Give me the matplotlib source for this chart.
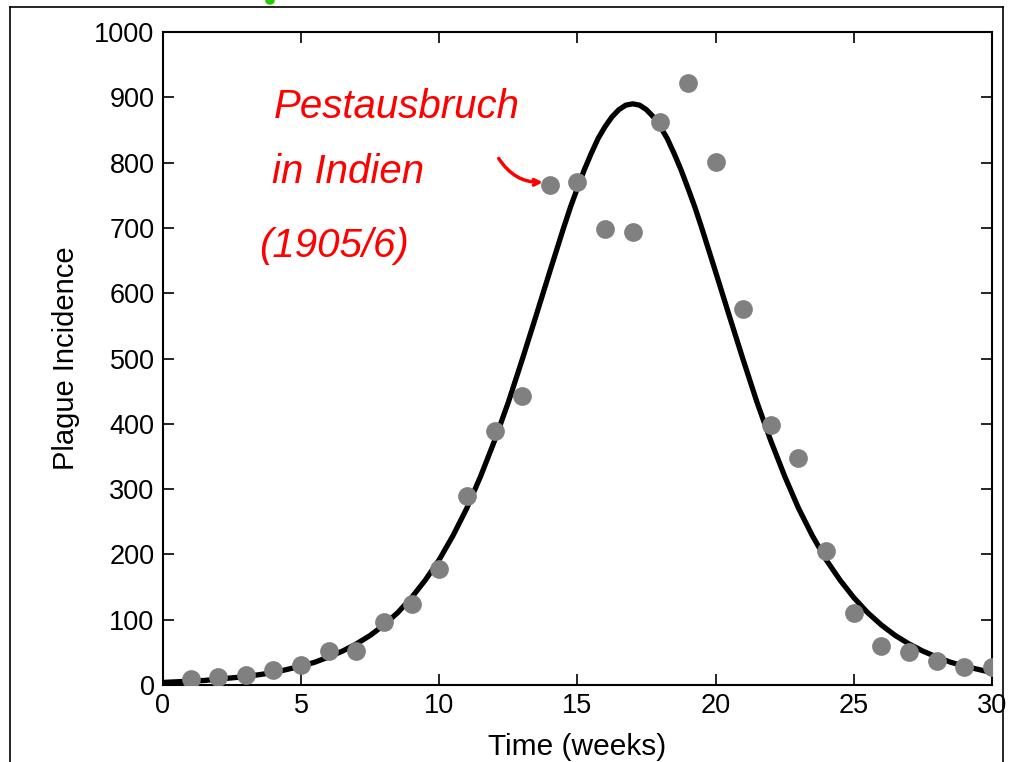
import matplotlib
matplotlib.use("Agg")
import matplotlib.pyplot as plt
from matplotlib.lines import Line2D
from matplotlib.patches import Ellipse

# observed weekly deaths (grey dots)
weeks = list(range(1, 31))
deaths = [10, 12, 15, 23, 31, 52, 52, 96, 124, 178,
          289, 389, 443, 766, 770, 698, 694, 862, 922, 801,
          576, 398, 348, 205, 110, 60, 51, 37, 28, 28]

# fitted curve, read every half week (quarter weeks around the peak)
curve_t = [0, 0.5, 1, 1.5, 2, 2.5, 3, 3.5, 4, 4.5,
           5, 5.5, 6, 6.5, 7, 7.5, 8, 8.5, 9, 9.5,
           10, 10.5, 11, 11.5, 12, 12.5, 13, 13.5, 14, 14.5,
           14.75, 15, 15.25, 15.5, 15.75, 16, 16.25, 16.5, 16.75, 17,
           17.25, 17.5, 17.75, 18, 18.25, 18.5, 18.75, 19, 19.25, 19.5,
           20, 20.5, 21, 21.5, 22, 22.5, 23, 23.5, 24, 24.5,
           25, 25.5, 26, 26.5, 27, 27.5, 28, 28.5, 29, 29.5, 30]
curve_y = [4, 5, 6, 7, 9, 11, 13, 16, 19, 24,
           29, 35, 43, 52, 63, 76, 92, 111, 134, 161,
           192, 229, 271, 320, 374, 433, 498, 565, 633, 700,
           732, 761, 789, 814, 837, 855, 870, 881, 888, 890,
           888, 881, 870, 855, 837, 814, 789, 761, 732, 700,
           633, 565, 498, 433, 374, 320, 271, 229, 192, 161,
           134, 111, 92, 76, 63, 52, 43, 35, 29, 24, 19]

xticks = [0, 5, 10, 15, 20, 25, 30]
yticks = [0, 100, 200, 300, 400, 500, 600, 700, 800, 900, 1000]

plt.rcParams['font.family'] = ['Liberation Sans', 'DejaVu Sans']

fig = plt.figure(figsize=(10.09, 7.62), dpi=100)
ax = fig.add_axes([0.1615, 0.101, 0.8215, 0.857])

ax.plot(curve_t, curve_y, color='black', lw=3.8, solid_joinstyle='round', zorder=2)
ax.plot(weeks, deaths, 'o', color='#808080', markersize=13.5, mec='none', zorder=3)

ax.set_xlim(0, 30)
ax.set_ylim(0, 1000)
ax.set_xticks(xticks)
ax.set_yticks(yticks)
ax.tick_params(direction='in', length=8, width=1.2, labelsize=19.5,
               top=True, right=True, pad=6)
for s in ax.spines.values():
    s.set_linewidth(1.5)
ax.set_xlabel('Time (weeks)', fontsize=21.5, labelpad=10)
ax.set_ylabel('Plague Incidence', fontsize=21, labelpad=10)

# handwritten note
note = dict(color='red', fontsize=29, style='italic', ha='center', va='center')
ax.text(8.45, 885, 'Pestausbruch', **note)
ax.text(6.7, 785, 'in Indien', **note)
ax.text(6.2, 672, '(1905/6)', **note)
ax.annotate('', xy=(13.85, 770), xytext=(12.1, 810),
            arrowprops=dict(arrowstyle='->', color='red', lw=2.5,
                            connectionstyle='arc3,rad=0.3'))

# page frame around the figure
fig.add_artist(Line2D([10 / 1009, 1003 / 1009], [1 - 7 / 762, 1 - 7 / 762],
                      color='black', lw=1.2))
fig.add_artist(Line2D([10 / 1009, 10 / 1009], [0, 1 - 7 / 762], color='black', lw=1.2))
fig.add_artist(Line2D([1003 / 1009, 1003 / 1009], [0, 1 - 7 / 762], color='black', lw=1.2))
fig.add_artist(Ellipse((270 / 1009, 1 - 1 / 762), 8 / 1009, 6 / 762,
                       color='#22cc00', transform=fig.transFigure))

fig.savefig('out.png', dpi=100)
